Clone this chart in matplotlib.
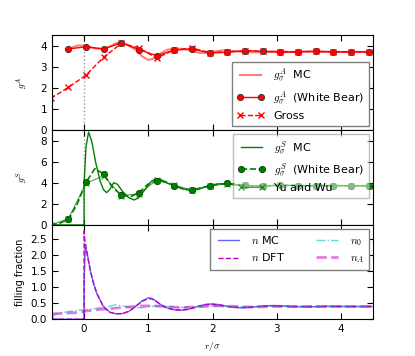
import numpy as np
import matplotlib
matplotlib.use("Agg")
import matplotlib.pyplot as plt

plt.rcParams.update({
    "font.family": ["DejaVu Sans"],
    "xtick.direction": "in", "ytick.direction": "in",
    "xtick.top": True, "ytick.right": True,
    "xtick.major.size": 4, "ytick.major.size": 4,
    "xtick.labelsize": 7.5, "ytick.labelsize": 7.5,
    "legend.numpoints": 2,
    "mathtext.fontset": "cm",
})

# ---- top panel: g^A ----
wbA_x = [-0.245, 0.03, 0.305, 0.58, 0.855, 1.13, 1.405, 1.68, 1.955, 2.23,
         2.505, 2.78, 3.055, 3.33, 3.605, 3.88, 4.155, 4.43]
wbA_y = [3.84, 3.94, 3.84, 4.13, 3.81, 3.52, 3.78, 3.84, 3.65, 3.68,
         3.76, 3.73, 3.68, 3.70, 3.73, 3.70, 3.70, 3.70]
grossA_x = [-0.52, -0.245, 0.03, 0.305, 0.58, 0.855, 1.13, 1.405, 1.68, 1.955,
            2.23, 2.505, 2.78, 3.055, 3.33, 3.605, 3.88, 4.155, 4.43]
grossA_y = [1.50, 2.02, 2.60, 3.45, 4.10, 3.89, 3.40, 3.80, 3.88, 3.67,
            3.70, 3.75, 3.72, 3.70, 3.71, 3.72, 3.70, 3.70, 3.70]
mcA_x = [-0.2, -0.1, 0.0, 0.1, 0.2, 0.3, 0.4, 0.5, 0.6, 0.7, 0.8, 0.9, 1.0,
         1.1, 1.2, 1.3, 1.4, 1.5, 1.6, 1.7, 1.8, 1.9, 2.0, 2.1, 2.2, 2.3, 2.4,
         2.5, 2.6, 2.7, 2.8, 2.9, 3.0, 3.2, 3.4, 3.6, 3.8, 4.0, 4.2, 4.5]
mcA_y = [3.90, 4.00, 4.00, 3.92, 3.85, 3.85, 3.95, 4.12, 4.12, 4.00, 3.80,
         3.50, 3.32, 3.40, 3.65, 3.80, 3.85, 3.85, 3.82, 3.72, 3.65, 3.65,
         3.70, 3.75, 3.78, 3.75, 3.72, 3.70, 3.68, 3.68, 3.70, 3.72, 3.73,
         3.70, 3.72, 3.70, 3.71, 3.70, 3.70, 3.70]

# ---- middle panel: g^S ----
wbS_x = [-0.52, -0.383, -0.245, -0.108, 0.03, 0.168, 0.305, 0.443, 0.58, 0.718,
         0.855, 0.993, 1.13, 1.268, 1.405, 1.543, 1.68, 1.818, 1.955, 2.093,
         2.23, 2.368, 2.505, 2.643, 2.78, 2.918, 3.055, 3.193, 3.33, 3.468,
         3.605, 3.743, 3.88, 4.018, 4.155, 4.293, 4.43]
wbS_y = [0.0, 0.15, 0.55, 2.0, 4.08, 5.4, 4.88, 3.6, 2.87, 2.7,
         3.09, 3.9, 4.24, 4.15, 3.76, 3.45, 3.35, 3.55, 3.73, 3.9,
         3.98, 3.9, 3.8, 3.72, 3.72, 3.76, 3.8, 3.8, 3.78, 3.76,
         3.76, 3.77, 3.77, 3.76, 3.76, 3.76, 3.76]
yuwu_x = [-0.52, -0.245, 0.03, 0.305, 0.58, 0.855, 1.13, 1.405, 1.68, 1.955,
          2.23, 2.505, 2.78, 3.055, 3.33, 3.605, 3.88, 4.155, 4.43]
yuwu_y = [0.0, 0.6, 4.0, 4.7, 2.8, 3.0, 4.3, 3.8, 3.35, 3.75,
          3.95, 3.8, 3.75, 3.8, 3.78, 3.77, 3.76, 3.76, 3.76]
mcS_x = [-0.5, -0.001, 0.0, 0.03, 0.07, 0.12, 0.18, 0.25, 0.3, 0.35, 0.4,
         0.46, 0.52, 0.6, 0.7, 0.78, 0.85, 0.95, 1.05, 1.12, 1.2, 1.3, 1.42,
         1.55, 1.68, 1.8, 1.95, 2.1, 2.25, 2.4, 2.55, 2.7, 2.85, 3.0, 3.3,
         3.6, 3.9, 4.2, 4.5]
mcS_y = [0.0, 0.0, 4.0, 7.5, 8.9, 8.0, 6.0, 4.2, 3.4, 3.1, 3.4,
         4.05, 3.9, 3.2, 2.6, 2.4, 2.6, 3.4, 4.2, 4.45, 4.35, 4.0, 3.75,
         3.45, 3.3, 3.45, 3.8, 3.95, 3.9, 3.8, 3.72, 3.72, 3.76, 3.8, 3.78,
         3.76, 3.77, 3.76, 3.76]

# ---- bottom panel: filling fraction ----
nmc_x = [-0.5, -0.001, 0.0, 0.02, 0.05, 0.1, 0.15, 0.2, 0.3, 0.4, 0.5, 0.6,
         0.7, 0.8, 0.9, 1.0, 1.05, 1.1, 1.2, 1.3, 1.4, 1.5, 1.6, 1.7, 1.8,
         1.9, 2.0, 2.1, 2.2, 2.3, 2.4, 2.5, 2.6, 2.7, 2.8, 2.9, 3.0, 3.1,
         3.2, 3.5, 3.8, 4.1, 4.5]
nmc_y = [0.0, 0.0, 1.2, 2.3, 2.05, 1.5, 1.1, 0.8, 0.4, 0.22, 0.17, 0.18,
         0.25, 0.4, 0.57, 0.67, 0.66, 0.6, 0.45, 0.35, 0.3, 0.28, 0.3, 0.35,
         0.42, 0.47, 0.48, 0.46, 0.42, 0.38, 0.36, 0.36, 0.38, 0.4, 0.42,
         0.43, 0.43, 0.42, 0.40, 0.39, 0.41, 0.40, 0.40]
ndft_x = [-0.5, -0.001, 0.0, 0.01, 0.05, 0.1, 0.15, 0.2, 0.3, 0.4, 0.5, 0.6,
          0.7, 0.8, 0.9, 1.0, 1.05, 1.1, 1.2, 1.3, 1.4, 1.5, 1.6, 1.7, 1.8,
          1.9, 2.0, 2.1, 2.2, 2.3, 2.4, 2.5, 2.6, 2.7, 2.8, 2.9, 3.0, 3.1,
          3.2, 3.5, 3.8, 4.1, 4.5]
ndft_y = [0.0, 0.0, 2.75, 2.5, 2.0, 1.5, 1.1, 0.8, 0.4, 0.22, 0.17, 0.18,
          0.25, 0.4, 0.56, 0.65, 0.64, 0.59, 0.45, 0.35, 0.3, 0.29, 0.31, 0.36,
          0.42, 0.46, 0.47, 0.45, 0.41, 0.38, 0.37, 0.37, 0.38, 0.4, 0.41,
          0.42, 0.42, 0.41, 0.40, 0.40, 0.40, 0.40, 0.40]
n0_x = [-0.5, -0.45, -0.3, -0.15, 0.0, 0.15, 0.3, 0.4, 0.5, 0.6, 0.7, 0.9,
        1.0, 1.2, 1.5, 1.8, 2.0, 2.3, 2.5, 2.8, 3.0, 3.5, 4.0, 4.5]
n0_y = [0.02, 0.16, 0.22, 0.27, 0.30, 0.33, 0.37, 0.41, 0.46, 0.42, 0.37,
        0.36, 0.40, 0.42, 0.37, 0.40, 0.42, 0.39, 0.38, 0.40, 0.41, 0.39,
        0.40, 0.40]
nA_x = [-0.5, -0.3, -0.1, 0.0, 0.2, 0.5, 0.7, 0.9, 1.1, 1.3, 1.5, 1.8, 2.0,
        2.3, 2.6, 3.0, 3.5, 4.0, 4.5]
nA_y = [0.17, 0.19, 0.21, 0.25, 0.3, 0.35, 0.39, 0.42, 0.42, 0.39, 0.37,
        0.39, 0.42, 0.41, 0.38, 0.40, 0.40, 0.40, 0.40]

fig = plt.figure(figsize=(4.15, 3.56), dpi=100)
L, W = 0.1253, 0.7735
ax1 = fig.add_axes([L, 0.6348, W, 0.2669])
ax2 = fig.add_axes([L, 0.3680, W, 0.2669])
ax3 = fig.add_axes([L, 0.1031, W, 0.2649])

for ax in (ax1, ax2, ax3):
    ax.axvline(0, color="0.6", ls=":", lw=1, zorder=0)
    ax.set_xlim(-0.5, 4.5)
    ax.set_xticks([0, 1, 2, 3, 4])

# top
ax1.plot(mcA_x, mcA_y, color="red", alpha=0.5, lw=1.5, label=r"$g_\sigma^A$  MC")
ax1.plot(wbA_x, wbA_y, "r-o", ms=4.5, mec="0.2", mew=0.6, lw=1,
         label=r"$g_\sigma^A$  (White Bear)")
ax1.plot(grossA_x, grossA_y, "rx--", ms=5, lw=1, label="Gross")
ax1.set_ylim(0, 4.5)
ax1.set_yticks([0, 1, 2, 3, 4])
ax1.set_xticklabels([])
ax1.set_ylabel(r"$g^A$", fontsize=7)
ax1.yaxis.set_label_coords(-0.068, 0.5)
ax1.legend(loc="lower right", fontsize=8, framealpha=1, edgecolor="0.5",
           fancybox=False, borderaxespad=0.4, handlelength=2.5)

# middle
ax2.plot(mcS_x, mcS_y, color="green", lw=1, label=r"$g_\sigma^S$  MC")
ax2.plot(wbS_x, wbS_y, "g--o", ms=4.5, mec="#004000", mew=0.6, lw=1.2,
         markevery=(2, 2), label=r"$g_\sigma^S$  (White Bear)")
ax2.plot(yuwu_x, yuwu_y, "g-x", ms=4, lw=0.8, alpha=0.7, label="Yu and Wu")
ax2.set_ylim(0, 9.1)
ax2.set_yticks([0, 2, 4, 6, 8])
ax2.set_xticklabels([])
ax2.set_ylabel(r"$g^S$", fontsize=7)
ax2.yaxis.set_label_coords(-0.068, 0.5)
ax2.legend(loc="upper right", fontsize=8, framealpha=0.5, edgecolor="0.5",
           fancybox=False, borderaxespad=0.4, handlelength=2.5)

# bottom
ax3.plot(nmc_x, nmc_y, color="blue", alpha=0.6, lw=1, label=r"$n$ MC")
ax3.plot(ndft_x, ndft_y, color="m", ls="--", lw=1, label=r"$n$ DFT")
ax3.plot(n0_x, n0_y, color="c", ls="-.", alpha=0.6, lw=1, label=r"$n_0$")
ax3.plot(nA_x, nA_y, color="m", ls="--", alpha=0.5, lw=2, label=r"$n_A$")
ax3.set_ylim(0, 2.95)
ax3.set_yticks([0.0, 0.5, 1.0, 1.5, 2.0, 2.5])
ax3.set_yticklabels(["0.0", "0.5", "1.0", "1.5", "2.0", "2.5"])
ax3.set_ylabel("filling fraction", fontsize=7)
ax3.yaxis.set_label_coords(-0.085, 0.5)
ax3.set_xlabel(r"$r/\sigma$", fontsize=7)
ax3.legend(loc="upper right", fontsize=8, ncol=2, framealpha=1, edgecolor="0.5",
           fancybox=False, borderaxespad=0.4, handlelength=2.5, columnspacing=2.5)

fig.savefig("out.png", dpi=100)
